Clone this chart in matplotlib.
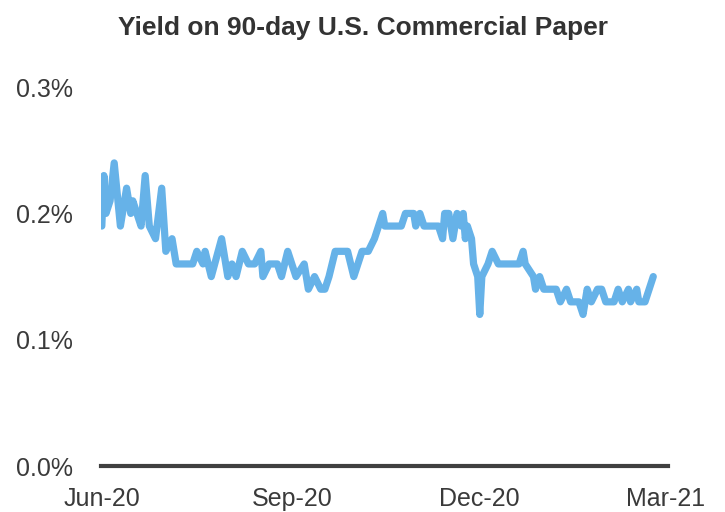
import matplotlib
matplotlib.use("Agg")
import matplotlib.pyplot as plt
import matplotlib.dates as mdates
import pandas as pd
from matplotlib.ticker import FuncFormatter

plt.rcParams["font.family"] = ["Liberation Sans", "DejaVu Sans"]

# turning points of the daily series (yield in %)
dates = [
    "2020-06-01", "2020-06-02", "2020-06-03", "2020-06-05", "2020-06-07", "2020-06-10",
    "2020-06-13", "2020-06-15", "2020-06-16", "2020-06-18", "2020-06-20", "2020-06-22",
    "2020-06-24", "2020-06-27", "2020-06-30", "2020-07-02", "2020-07-05", "2020-07-07",
    "2020-07-15", "2020-07-17", "2020-07-20", "2020-07-21", "2020-07-24", "2020-07-29",
    "2020-08-01", "2020-08-03", "2020-08-05", "2020-08-08", "2020-08-11", "2020-08-14",
    "2020-08-17", "2020-08-18", "2020-08-21", "2020-08-25", "2020-08-27", "2020-08-30",
    "2020-09-03", "2020-09-07", "2020-09-09", "2020-09-12", "2020-09-15", "2020-09-17",
    "2020-09-19", "2020-09-22", "2020-09-28", "2020-10-01", "2020-10-05", "2020-10-08",
    "2020-10-11", "2020-10-13", "2020-10-15", "2020-10-16", "2020-10-24", "2020-10-26",
    "2020-10-30", "2020-10-31", "2020-11-02", "2020-11-04", "2020-11-11", "2020-11-13",
    "2020-11-14", "2020-11-16", "2020-11-18", "2020-11-20", "2020-11-22", "2020-11-23",
    "2020-11-24", "2020-11-25", "2020-11-27", "2020-11-28", "2020-11-30", "2020-12-01",
    "2020-12-02", "2020-12-05", "2020-12-07", "2020-12-10", "2020-12-20", "2020-12-22",
    "2020-12-23", "2020-12-27", "2020-12-28", "2020-12-30", "2021-01-01", "2021-01-07",
    "2021-01-09", "2021-01-12", "2021-01-14", "2021-01-18", "2021-01-20", "2021-01-22",
    "2021-01-24", "2021-01-27", "2021-01-29", "2021-01-31", "2021-02-04", "2021-02-06",
    "2021-02-08", "2021-02-11", "2021-02-12", "2021-02-15", "2021-02-16", "2021-02-19",
    "2021-02-21", "2021-02-23",
]
yields = [
    0.19, 0.23, 0.20, 0.21, 0.24, 0.19,
    0.22, 0.20, 0.21, 0.20, 0.19, 0.23,
    0.19, 0.18, 0.22, 0.17, 0.18, 0.16,
    0.16, 0.17, 0.16, 0.17, 0.15, 0.18,
    0.15, 0.16, 0.15, 0.17, 0.16, 0.16,
    0.17, 0.15, 0.16, 0.16, 0.15, 0.17,
    0.15, 0.16, 0.14, 0.15, 0.14, 0.14,
    0.15, 0.17, 0.17, 0.15, 0.17, 0.17,
    0.18, 0.19, 0.20, 0.19, 0.19, 0.20,
    0.20, 0.19, 0.20, 0.19, 0.19, 0.18,
    0.20, 0.20, 0.18, 0.20, 0.19, 0.20,
    0.18, 0.19, 0.18, 0.16, 0.15, 0.12,
    0.15, 0.16, 0.17, 0.16, 0.16, 0.17,
    0.16, 0.15, 0.14, 0.15, 0.14, 0.14,
    0.13, 0.14, 0.13, 0.13, 0.12, 0.14,
    0.13, 0.14, 0.14, 0.13, 0.13, 0.14,
    0.13, 0.14, 0.13, 0.14, 0.13, 0.13,
    0.14, 0.15,
]
tick_dates = ["2020-06-01", "2020-09-01", "2020-12-01", "2021-03-01"]
y_ticks = [0.0, 0.1, 0.2, 0.3]

x = pd.to_datetime(dates)
ticks = pd.to_datetime(tick_dates)

fig = plt.figure(figsize=(7.25, 5.12), dpi=100)
ax = fig.add_axes([0.139, 0.0898, 0.782, 0.740])

ax.plot(x, yields, color="#66B2E8", lw=5.2, solid_joinstyle="round", solid_capstyle="round")

ax.set_ylim(0, 0.3)
ax.set_yticks(y_ticks)
ax.yaxis.set_major_formatter(FuncFormatter(lambda v, _: f"{v:.1f}%"))
ax.set_xlim(ticks[0] - pd.Timedelta(hours=12), ticks[-1] + pd.Timedelta(days=1))
ax.set_xticks(ticks)
ax.xaxis.set_major_formatter(mdates.DateFormatter("%b-%y"))

for s in ["top", "right", "left"]:
    ax.spines[s].set_visible(False)
ax.spines["bottom"].set_color("#404040")
ax.spines["bottom"].set_linewidth(3)
ax.tick_params(axis="both", length=0, labelsize=18, labelcolor="#3a3a3a")
ax.tick_params(axis="y", pad=20)
ax.tick_params(axis="x", pad=15)

fig.suptitle("Yield on 90-day U.S. Commercial Paper", x=0.5, y=0.945, va="center",
             fontsize=19, fontweight="bold", color="#333333")

fig.savefig("out.png", dpi=100)
